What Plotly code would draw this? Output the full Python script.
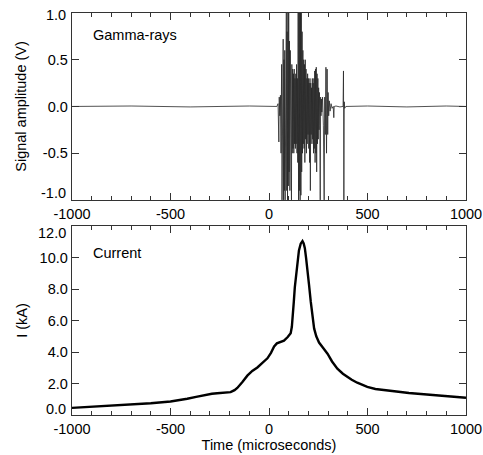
import plotly.graph_objects as go
from plotly.subplots import make_subplots

# ---- Gamma-ray signal: (time in microseconds, amplitude in V) ----
gamma_points = [
    (-1000, 0.0), (-700, 0.005), (-400, -0.005), (-100, 0.005), (40, 0.0), (46, 0.03),
    (50, -0.38), (52, 0.1), (55, -0.1), (58, 0.12), (61, -0.5), (64, 0.45), (66, -1.0),
    (68, 0.3), (70, -0.7), (72, 0.72), (74, -1.0), (76, 0.5), (78, -0.9), (80, 0.6),
    (82, -1.0), (84, 0.4), (86, -0.8), (88, 1.0), (90, -0.9), (92, 0.8), (94, -1.0),
    (96, 1.0), (98, -0.85), (100, 1.0), (102, -0.7), (104, 0.7), (106, -0.9), (108, 0.6),
    (110, -0.6), (112, 0.5), (114, -1.0), (116, 0.45), (118, -0.5), (120, 0.4),
    (122, -0.45), (124, 0.35), (126, -0.5), (128, 0.4), (130, -0.4), (132, 0.3),
    (134, -0.45), (136, 0.35), (138, -0.4), (140, 0.45), (142, -0.5), (144, 0.3),
    (146, -0.6), (148, 1.0), (150, -1.0), (152, 1.0), (154, -0.9), (156, 1.0),
    (158, -1.0), (160, 1.0), (162, -0.95), (164, 1.0), (166, -0.7), (168, 0.8),
    (170, -0.5), (172, 0.6), (174, -0.4), (176, 0.5), (178, -0.45), (180, 0.45),
    (182, -0.6), (184, 0.5), (186, -0.35), (188, 0.4), (190, -0.5), (192, 0.3),
    (194, -0.4), (196, 0.35), (198, -0.3), (200, 0.3), (202, -0.45), (204, 0.25),
    (206, -0.6), (208, 0.3), (210, -0.9), (212, 0.25), (214, -0.3), (216, 0.2),
    (218, -0.4), (220, 0.3), (222, -0.35), (224, 0.25), (226, -0.5), (228, 0.3),
    (230, -0.45), (232, 0.38), (234, -0.6), (236, 0.4), (238, -0.5), (240, 0.42),
    (242, -0.7), (244, 0.35), (246, -0.4), (248, 0.3), (250, -0.35), (252, 0.2),
    (254, -0.25), (256, 0.15), (258, -0.2), (260, -1.0), (262, 0.1), (264, -0.1),
    (266, 0.08), (268, -0.06), (272, 0.1), (276, -0.2), (280, -1.0), (283, 0.1),
    (286, -0.3), (289, 0.42), (292, -0.5), (295, 0.4), (298, -0.3), (300, 0.15),
    (303, -0.1), (306, 0.06), (310, -0.05), (315, 0.03), (320, -0.02), (326, 0.0),
    (329, -0.12), (331, 0.0), (340, 0.005), (360, -0.005), (376, 0.0), (378, 0.38),
    (380, -1.0), (382, 0.05), (384, -0.02), (390, 0.0), (500, 0.005), (700, -0.005),
    (900, 0.005), (1000, 0.0),
]
gamma_t = [p[0] for p in gamma_points]
gamma_v = [p[1] for p in gamma_points]

# ---- Current: (time in microseconds, current in kA) ----
current_points = [
    (-1000, 0.45), (-930, 0.5), (-856, 0.58), (-760, 0.62), (-686, 0.66), (-600, 0.75),
    (-500, 0.86), (-460, 0.92), (-415, 1.03), (-370, 1.15), (-331, 1.27), (-290, 1.35),
    (-263, 1.38), (-230, 1.4), (-195, 1.45), (-175, 1.58), (-161, 1.72), (-135, 2.1),
    (-110, 2.5), (-85, 2.8), (-59, 3.02), (-35, 3.3), (-8, 3.6), (10, 3.95), (26, 4.35),
    (40, 4.55), (51, 4.6), (76, 4.72), (95, 4.95), (110, 5.2), (116, 5.6), (120, 6.1),
    (126, 7.2), (131, 8.1), (138, 9.0), (144, 9.8), (152, 10.45), (161, 10.88),
    (166, 11.02), (170, 11.05), (176, 10.9), (182, 10.6), (188, 10.0), (195, 9.3),
    (203, 8.3), (212, 7.2), (220, 6.2), (229, 5.5), (240, 5.0), (254, 4.6), (275, 4.25),
    (297, 3.89), (320, 3.4), (347, 2.94), (375, 2.62), (398, 2.41), (420, 2.24),
    (448, 2.05), (475, 1.9), (499, 1.78), (540, 1.65), (584, 1.57), (630, 1.5),
    (668, 1.46), (710, 1.4), (753, 1.36), (800, 1.33), (838, 1.29), (880, 1.24),
    (922, 1.19), (960, 1.15), (1000, 1.1),
]
cur_t = [p[0] for p in current_points]
cur_v = [p[1] for p in current_points]

x_ticks = [-1000, -500, 0, 500, 1000]
x_labels = ["-1000", "-500", "0", "500", "1000"]
g_ticks = [-1.0, -0.5, 0.0, 0.5, 1.0]
g_labels = ["", "-0.5", "0.0", "0.5", ""]          # end labels drawn separately
c_ticks = [0, 2, 4, 6, 8, 10, 12]
c_labels = ["", "2.0", "4.0", "6.0", "8.0", "10.0", ""]
end_labels_gamma = [("1.0", 0.975), ("-1.0", -0.93)]
end_labels_current = [("12.0", 11.55), ("0.0", 0.4)]

FONT = "Liberation Sans, Arial, Helvetica, sans-serif"
AX = "#333333"
FS = 14.5

fig = make_subplots(rows=2, cols=1, vertical_spacing=0.0)

fig.add_trace(go.Scatter(x=gamma_t, y=gamma_v, mode="lines",
                         line=dict(color="#262626", width=0.8), showlegend=False),
              row=1, col=1)
fig.add_trace(go.Scatter(x=cur_t, y=cur_v, mode="lines",
                         line=dict(color="black", width=2.4), showlegend=False),
              row=2, col=1)

common_x = dict(range=[-1000, 1000], tickvals=x_ticks, ticktext=x_labels,
                ticks="inside", ticklen=7, tickwidth=1, tickcolor=AX,
                mirror="allticks", showline=True, linecolor=AX, linewidth=1.3,
                showgrid=False, zeroline=False, automargin=False,
                minor=dict(dtick=100, tick0=0, ticks="inside", ticklen=4,
                           tickcolor=AX, showgrid=False),
                tickfont=dict(size=FS, color="black", family=FONT))
fig.update_xaxes(**common_x)
fig.update_xaxes(title=dict(text="Time (microseconds)",
                            font=dict(size=FS, family=FONT, color="black"),
                            standoff=0), row=2, col=1)

common_y = dict(ticks="inside", ticklen=7, tickwidth=1, tickcolor=AX,
                mirror="allticks", showline=True, linecolor=AX, linewidth=1.3,
                showgrid=False, zeroline=False, automargin=False,
                tickfont=dict(size=FS, color="black", family=FONT))
fig.update_yaxes(**common_y)
fig.update_yaxes(range=[-1, 1], tickvals=g_ticks, ticktext=g_labels,
                 domain=[0.535, 1.0],
                 title=dict(text="Signal amplitude (V)",
                            font=dict(size=FS, family=FONT, color="black"),
                            standoff=12), row=1, col=1)
fig.update_yaxes(range=[0, 12], tickvals=c_ticks, ticktext=c_labels,
                 domain=[0.0, 0.47],
                 title=dict(text="I (kA)", font=dict(size=FS, family=FONT, color="black"),
                            standoff=8), row=2, col=1)

for txt, yv in end_labels_gamma:
    fig.add_annotation(text=txt, xref="x domain", yref="y", x=0, y=yv, xshift=-4,
                       xanchor="right", yanchor="middle", showarrow=False,
                       font=dict(size=FS, family=FONT, color="black"))
for txt, yv in end_labels_current:
    fig.add_annotation(text=txt, xref="x2 domain", yref="y2", x=0, y=yv, xshift=-4,
                       xanchor="right", yanchor="middle", showarrow=False,
                       font=dict(size=FS, family=FONT, color="black"))

fig.add_annotation(text="Gamma-rays", xref="x", yref="y", x=-905, y=0.76,
                   xanchor="left", yanchor="middle", showarrow=False,
                   font=dict(size=FS, family=FONT, color="black"))
fig.add_annotation(text="Current", xref="x2", yref="y2", x=-905, y=10.3,
                   xanchor="left", yanchor="middle", showarrow=False,
                   font=dict(size=FS, family=FONT, color="black"))

fig.update_layout(width=483, height=455,
                  margin=dict(l=72, r=17, t=13, b=40),
                  plot_bgcolor="white", paper_bgcolor="white",
                  font=dict(family=FONT, color="black", size=FS))

# Remove the default 8 px page margin so the figure fills the window exactly.
fig.write_html("out.html",
               config={"displayModeBar": False, "staticPlot": True},
               post_script="document.body.style.margin='0';document.body.style.overflow='hidden';")
